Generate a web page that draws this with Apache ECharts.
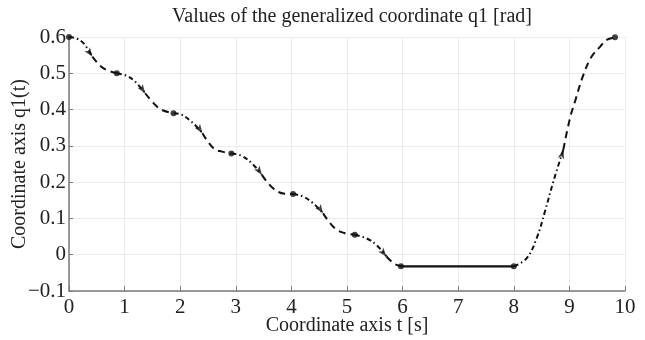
<!DOCTYPE html>
<html>
<head>
<meta charset="utf-8">
<script src="https://cdn.jsdelivr.net/npm/echarts@6/dist/echarts.min.js"></script>
<style>
  html, body { margin: 0; padding: 0; background: #fff; }
  #chart { width: 645px; height: 340px; }
</style>
</head>
<body>
<div id="chart"></div>
<script>
// x ticks 0..10, y ticks -0.1..0.6
const xTicks = [0, 1, 2, 3, 4, 5, 6, 7, 8, 9, 10];
const yTicks = [-0.1, 0, 0.1, 0.2, 0.3, 0.4, 0.5, 0.6];

// key points of the motion (start / end of every step)
const stepPoints = [
  [0, 0.6], [0.86, 0.5], [1.88, 0.39], [2.92, 0.279], [4.03, 0.167],
  [5.14, 0.055], [5.97, -0.032], [8.0, -0.032], [9.82, 0.599]
];

// mid points, drawn as small arrows
const arrowPoints = [
  [0.42, 0.546], [1.37, 0.445], [2.4, 0.335], [3.47, 0.22],
  [4.57, 0.114], [5.71, -0.005], [8.89, 0.289]
];
const arrowAngles = [-145, -145, -145, -145, -145, -140, -15];

// first half of each step (dash-dot), pieces split by null
const dashDotPath = [
  [0, 0.6], [0.13, 0.596], [0.26, 0.583], [0.42, 0.546], null,
  [0.86, 0.5], [1.04, 0.493], [1.19, 0.477], [1.37, 0.445], null,
  [1.88, 0.39], [1.99, 0.388], [2.2, 0.367], [2.4, 0.335], null,
  [2.92, 0.279], [3.1, 0.273], [3.3, 0.25], [3.47, 0.22], null,
  [4.03, 0.167], [4.2, 0.161], [4.39, 0.142], [4.57, 0.114], null,
  [5.14, 0.055], [5.35, 0.045], [5.53, 0.027], [5.71, -0.005], null,
  [8.0, -0.032], [8.23, -0.01], [8.41, 0.045], [8.56, 0.119], [8.71, 0.201], [8.89, 0.289]
];

// second half of each step (dashed)
const dashPath = [
  [0.42, 0.546], [0.56, 0.521], [0.68, 0.509], [0.86, 0.5], null,
  [1.37, 0.445], [1.55, 0.413], [1.67, 0.399], [1.88, 0.39], null,
  [2.4, 0.335], [2.6, 0.293], [2.75, 0.284], [2.92, 0.279], null,
  [3.47, 0.22], [3.67, 0.183], [3.88, 0.168], [4.03, 0.167], null,
  [4.57, 0.114], [4.78, 0.073], [4.95, 0.06], [5.14, 0.055], null,
  [5.71, -0.005], [5.85, -0.025], [5.97, -0.032], null,
  [8.89, 0.289], [9.01, 0.376], [9.1, 0.422], [9.25, 0.495], [9.4, 0.546],
  [9.55, 0.573], [9.67, 0.592], [9.82, 0.599]
];

// standstill
const holdPath = [[5.97, -0.032], [8.0, -0.032]];

const FONT = "Liberation Serif";

const chart = echarts.init(document.getElementById("chart"));

const fmtY = (v) => {
  if (Math.abs(v) < 1e-9) return "0";
  if (v < 0) return "\u2212" + Math.abs(v).toFixed(1);
  return v.toFixed(1);
};

const option = {
  animation: false,
  title: {
    text: "Values of the generalized coordinate q1 [rad]",
    left: 347,
    textAlign: "center",
    top: 2,
    textStyle: { fontFamily: FONT, fontSize: 20, fontWeight: "normal", color: "#222" }
  },
  grid: { left: 69, right: 20, top: 37, bottom: 49, outerBoundsMode: "none" },
  xAxis: {
    type: "value",
    min: xTicks[0],
    max: xTicks[xTicks.length - 1],
    interval: 1,
    name: "Coordinate axis t [s]",
    nameLocation: "middle",
    nameGap: 25,
    nameMoveOverlap: false,
    nameTextStyle: { fontFamily: FONT, fontSize: 20, color: "#222" },
    axisLine: { onZero: false, lineStyle: { color: "#7a7a7a", width: 1.5 } },
    axisTick: { inside: true, length: 5, lineStyle: { color: "#7a7a7a" } },
    axisLabel: { fontFamily: FONT, fontSize: 21, color: "#222", margin: 6 },
    splitLine: { lineStyle: { color: "#ececec" } }
  },
  yAxis: {
    type: "value",
    min: yTicks[0],
    max: yTicks[yTicks.length - 1],
    interval: 0.1,
    name: "Coordinate axis q1(t)",
    nameLocation: "middle",
    nameGap: 39,
    nameMoveOverlap: false,
    nameTextStyle: { fontFamily: FONT, fontSize: 20, color: "#222" },
    axisLine: { show: true, lineStyle: { color: "#7a7a7a", width: 1.5 } },
    axisTick: { show: true, inside: true, length: 4, lineStyle: { color: "#7a7a7a" } },
    axisLabel: { fontFamily: FONT, fontSize: 21, color: "#222", margin: 3, formatter: fmtY },
    splitLine: { lineStyle: { color: "#ececec" } }
  },
  series: [
    {
      type: "line",
      data: dashDotPath,
      smooth: 0.4,
      connectNulls: false,
      showSymbol: false,
      lineStyle: { color: "#111", width: 2, type: [5, 3, 1.5, 3] }
    },
    {
      type: "line",
      data: dashPath,
      smooth: 0.4,
      connectNulls: false,
      showSymbol: false,
      lineStyle: { color: "#111", width: 2, type: [7, 5] }
    },
    {
      type: "line",
      data: holdPath,
      showSymbol: false,
      lineStyle: { color: "#111", width: 2.2 }
    },
    {
      type: "scatter",
      data: stepPoints,
      symbol: "circle",
      symbolSize: 6,
      itemStyle: { color: "#111" }
    },
    {
      type: "scatter",
      data: arrowPoints.map((p, i) => ({ value: p, symbolRotate: arrowAngles[i] })),
      symbol: "arrow",
      symbolSize: [5, 9],
      itemStyle: { color: "#111" }
    }
  ]
};

chart.setOption(option);
</script>
</body>
</html>
